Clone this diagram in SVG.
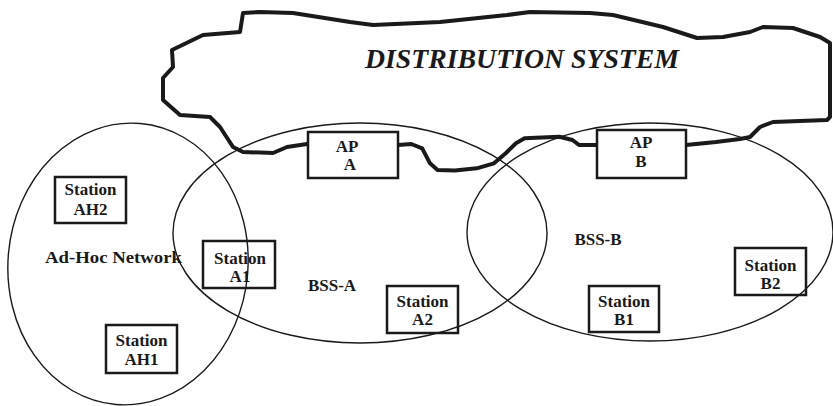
<svg xmlns="http://www.w3.org/2000/svg" width="833" height="406" viewBox="0 0 833 406">
<style>
.cloud{fill:none;stroke:#1a1a1a;stroke-width:4;stroke-linejoin:round;stroke-linecap:round}
.ell{fill:none;stroke:#1a1a1a;stroke-width:1.4}
.box{fill:none;stroke:#1a1a1a;stroke-width:2.5}
.apbox{fill:#fff;stroke:#1a1a1a;stroke-width:2.5}
text{font-family:"Liberation Serif","Times New Roman",serif;font-weight:bold;font-size:17px;fill:#1a1a1a;text-anchor:middle}
.title{font-style:italic;font-size:27px}
</style>
<rect width="833" height="406" fill="#fff"/>
<g id="distribution-system">
<path class="cloud" d="M243,13 L260,12 L293,13 L350,22 L373,25 L440,22 L507,15 L530,12 L590,13 L613,15 L663,27 L697,38 L723,37 L750,32 L763,27 L793,28 L820,37 L830,43 L830,117 L827,120 L773,122 L760,127 L750,137 L740,139 L716,142 L686,145 L597,145 L579,145 L572.5,140 L559.4,136.7 L524.6,138.3 L515.9,143.3 L506,153 L494,163.3 L476.7,168.3 L454.9,170.5 L437.5,170 L430,163.3 L422.2,148.3 L411.3,144 L398,145 L307,144 L287,147 L273,153 L243,152 L233,147 L220,127 L210,117 L180,115 L163,100 L163,78 L173,67 L172,50 L203,35 L240,32 Z"/>
<text class="title" x="522" y="68" textLength="314" lengthAdjust="spacingAndGlyphs">DISTRIBUTION SYSTEM</text>
</g>
<g id="adhoc-network">
<ellipse class="ell" cx="128" cy="264" rx="120" ry="141" transform="rotate(5 128 264)"/>
<text x="113.5" y="263" textLength="137" lengthAdjust="spacingAndGlyphs">Ad-Hoc Network</text>
</g>
<g id="bss-a">
<ellipse class="ell" cx="360" cy="233" rx="187" ry="110"/>
<text x="332" y="291">BSS-A</text>
</g>
<g id="bss-b">
<ellipse class="ell" cx="650" cy="232" rx="183" ry="109"/>
<text x="598" y="245">BSS-B</text>
</g>
<g id="ap-a">
<rect class="apbox" x="308" y="132" width="90" height="46"/>
<text><tspan x="347" y="152">AP</tspan><tspan x="350" y="170">A</tspan></text>
</g>
<g id="ap-b">
<rect class="apbox" x="597" y="130" width="89" height="48"/>
<text><tspan x="641" y="148">AP</tspan><tspan x="641" y="167">B</tspan></text>
</g>
<g id="station-ah2">
<rect class="box" x="55" y="177" width="71" height="46"/>
<text><tspan x="90.5" y="195">Station</tspan><tspan x="90.5" y="215">AH2</tspan></text>
</g>
<g id="station-a1">
<rect class="box" x="203" y="241" width="72" height="47"/>
<text><tspan x="240" y="264">Station</tspan><tspan x="240" y="282">A1</tspan></text>
</g>
<g id="station-ah1">
<rect class="box" x="106" y="325" width="71" height="48"/>
<text><tspan x="141.5" y="346">Station</tspan><tspan x="141.5" y="365">AH1</tspan></text>
</g>
<g id="station-a2">
<rect class="box" x="387" y="286" width="71" height="47"/>
<text><tspan x="422.5" y="307">Station</tspan><tspan x="422.5" y="325">A2</tspan></text>
</g>
<g id="station-b1">
<rect class="box" x="589" y="286" width="70" height="46"/>
<text><tspan x="624" y="307">Station</tspan><tspan x="624" y="325">B1</tspan></text>
</g>
<g id="station-b2">
<rect class="box" x="735" y="248" width="71" height="47"/>
<text><tspan x="770.5" y="271">Station</tspan><tspan x="770.5" y="289">B2</tspan></text>
</g>
<g id="connectors"></g>
</svg>
